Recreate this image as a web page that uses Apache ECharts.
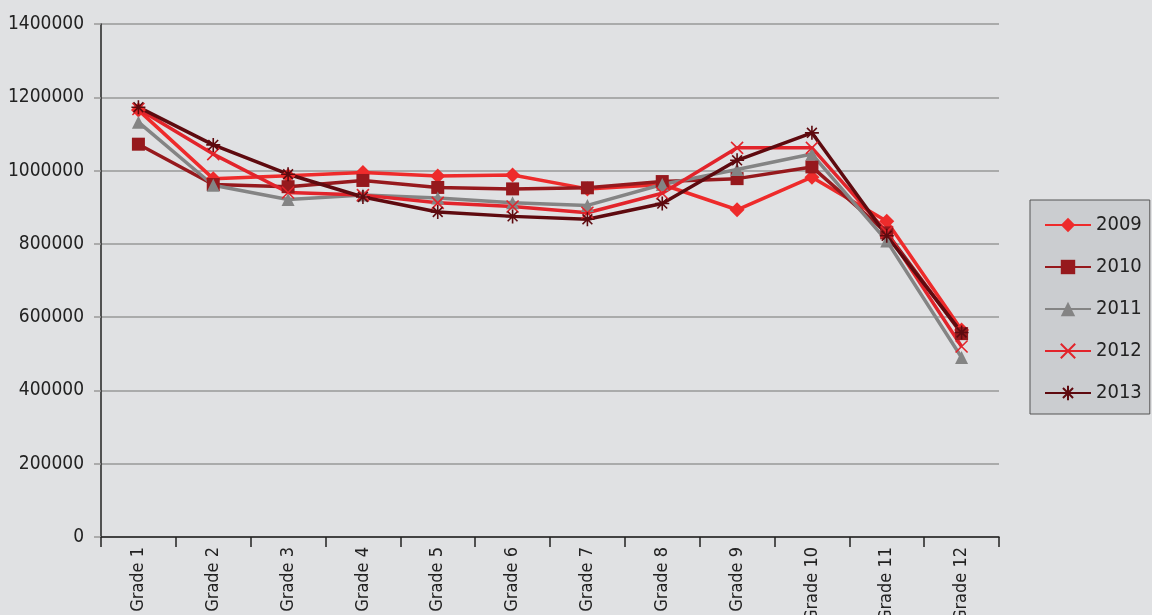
<!DOCTYPE html>
<html>
<head>
<meta charset="utf-8">
<script src="https://cdn.jsdelivr.net/npm/echarts@6/dist/echarts.min.js"></script>
<style>
html,body{margin:0;padding:0;background:#e0e1e3;}
#chart{width:1152px;height:615px;}
</style>
</head>
<body>
<div id="chart"></div>
<script>
const categories = ['Grade 1','Grade 2','Grade 3','Grade 4','Grade 5','Grade 6','Grade 7','Grade 8','Grade 9','Grade 10','Grade 11','Grade 12'];
const s2009 = [1165000, 978000, 986000, 995000, 985000, 988000, 950000, 962000, 893000, 982000, 862000, 565000];
const s2010 = [1072000, 962000, 956000, 973000, 954000, 950000, 953000, 970000, 978000, 1010000, 830000, 555000];
const s2011 = [1132000, 960000, 921000, 933000, 925000, 912000, 905000, 962000, 1003000, 1045000, 808000, 490000];
const s2012 = [1168000, 1045000, 940000, 933000, 912000, 902000, 885000, 938000, 1062000, 1062000, 832000, 520000];
const s2013 = [1173000, 1070000, 990000, 928000, 887000, 875000, 867000, 910000, 1028000, 1103000, 822000, 558000];
const yTicks = [0, 200000, 400000, 600000, 800000, 1000000, 1200000, 1400000];

const FONT = '"Liberation Sans Narrow", "DejaVu Sans Condensed", sans-serif';
const crossPath = 'path://M0,0L10,10M10,0L0,10';
const starPath = 'path://M5,0L5,10M0,5L10,5M1.5,1.5L8.5,8.5M8.5,1.5L1.5,8.5';

function mk(name, data, color, symbol, size, stroke) {
  return {
    name: name, type: 'line', data: data,
    symbol: symbol, symbolSize: size,
    showAllSymbol: true,
    lineStyle: {color: color, width: 3.5},
    itemStyle: stroke ? {color: color, borderColor: color, borderWidth: 1.6} : {color: color},
    z: 2
  };
}

const chart = echarts.init(document.getElementById('chart'));
chart.setOption({
  backgroundColor: '#e0e1e3',
  animation: false,
  grid: {left: 101, right: 153, top: 24, bottom: 78, containLabel: false, outerBoundsMode: 'none'},
  legend: {
    orient: 'vertical',
    left: 1030, top: 200,
    width: 118,
    padding: [15, 8, 11, 14],
    itemWidth: 46, itemHeight: 18, itemGap: 22,
    backgroundColor: '#cbcdd0',
    borderColor: '#555',
    borderWidth: 1,
    textStyle: {fontFamily: FONT, fontSize: 20, color: '#222'},
    data: ['2009','2010','2011','2012','2013']
  },
  xAxis: {
    type: 'category',
    data: categories,
    boundaryGap: true,
    axisLine: {lineStyle: {color: '#222', width: 1.5}},
    axisTick: {show: true, length: 10, lineStyle: {color: '#222', width: 1.5}},
    axisLabel: {rotate: 90, fontFamily: FONT, fontSize: 18, color: '#222', margin: 10, interval: 0}
  },
  yAxis: {
    type: 'value',
    min: 0, max: 1400000, interval: 200000,
    axisLine: {show: true, lineStyle: {color: '#222', width: 1.5}},
    axisTick: {show: true, length: 7, lineStyle: {color: '#999', width: 1.5}},
    splitLine: {show: true, lineStyle: {color: '#999', width: 1.5}},
    axisLabel: {fontFamily: FONT, fontSize: 19, color: '#222', margin: 17,
      formatter: function (v) { return yTicks.indexOf(v) >= 0 ? String(v) : ''; }}
  },
  series: [
    mk('2009', s2009, '#ee2b2b', 'diamond', 15, false),
    mk('2010', s2010, '#96191d', 'rect', 13, false),
    mk('2011', s2011, '#848484', 'triangle', 13, false),
    mk('2012', s2012, '#e2242b', crossPath, 12, true),
    mk('2013', s2013, '#5e0a0f', starPath, 14, true)
  ]
});
</script>
</body>
</html>
